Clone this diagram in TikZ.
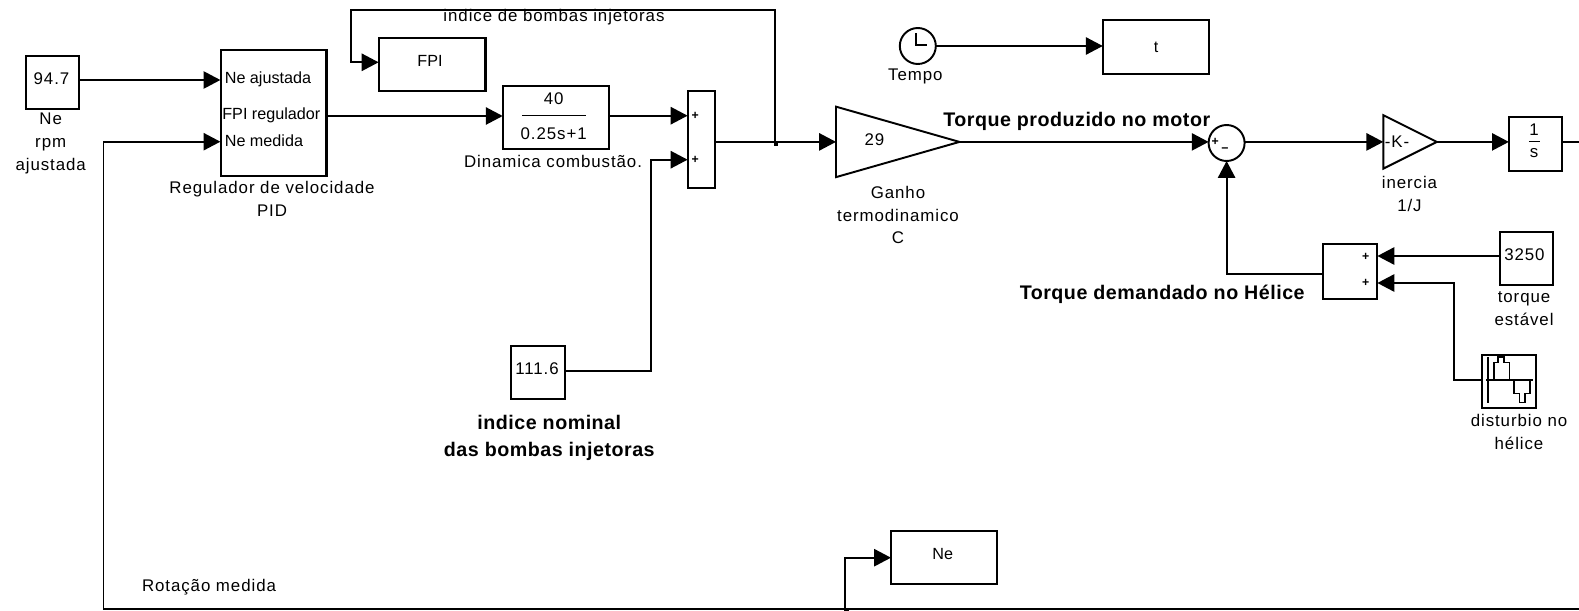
\documentclass[tikz,border=0pt]{standalone}
\usepackage{fontspec}
\setmainfont{Liberation Sans}
\usetikzlibrary{arrows.meta,shapes.geometric}

\begin{document}
\begin{tikzpicture}[x=0.02cm,y=-0.02cm,
    >={Triangle[length=9.6pt,width=9.8pt]},
    wire/.style={line width=1.13pt},
    block/.style={rectangle,draw,line width=1.15pt,inner sep=0pt,outer sep=0pt},
    roundblock/.style={circle,draw,line width=1.1pt,inner sep=0pt,outer sep=0pt,minimum size=0.72cm},
    gainblock/.style={isosceles triangle,isosceles triangle stretches,draw,line width=1.1pt,inner sep=0pt,outer sep=0pt},
    txt/.style={font=\fontsize{9.6}{13}\selectfont\addfontfeature{LetterSpace=5.5},align=center,inner sep=0pt},
    porttxt/.style={font=\fontsize{9.2}{13}\selectfont,align=center,inner sep=0pt},
    boldtxt/.style={font=\fontsize{11.2}{15.4}\selectfont\bfseries\addfontfeature{LetterSpace=2.5},align=center,inner sep=0pt},
    signtxt/.style={font=\fontsize{7}{8}\selectfont\bfseries,inner sep=0pt}]
    \useasboundingbox (0,0) rectangle (1579,611);

    % blocos principais
    \node[block,minimum width=1.07cm,minimum height=1.06cm] (ref) at (52.5,82.2) {};
    \node[block,minimum width=2.12cm,minimum height=2.51cm] (pid) at (273.5,113.2) {};
    \node[block,minimum width=2.14cm,minimum height=1.05cm] (fpi) at (432,64.3) {};
    \node[block,minimum width=2.12cm,minimum height=1.27cm] (dyn) at (555.7,117.3) {};
    \node[block,minimum width=0.54cm,minimum height=1.95cm] (mix) at (701.1,139.5) {};
    \node[block,minimum width=1.07cm,minimum height=1.07cm] (nominal) at (538,372.7) {};
    \node[gainblock,minimum width=1.41cm,minimum height=2.47cm,anchor=lower side] (gain) at (836,141.9) {};
    \node[roundblock] (clock) at (917.8,46) {};
    \node[block,minimum width=2.13cm,minimum height=1.07cm] (tbox) at (1156,46.8) {};
    \node[roundblock] (soma) at (1226.6,143) {};
    \node[gainblock,minimum width=1.07cm,minimum height=1.07cm,anchor=lower side] (inertia) at (1383.3,141.9) {};
    \node[block,minimum width=1.07cm,minimum height=1.07cm] (integ) at (1535.6,144) {};
    \node[block,minimum width=1.08cm,minimum height=1.11cm] (dem) at (1350.4,271.7) {};
    \node[block,minimum width=1.07cm,minimum height=1.06cm] (stable) at (1526.3,258.2) {};
    \node[block,minimum width=1.07cm,minimum height=1.05cm] (dist) at (1509,381.7) {};
    \node[block,minimum width=2.13cm,minimum height=1.05cm] (neout) at (944.2,557.7) {};

    % textos dos blocos
    \node[txt] (reflabel) at (51.5,78.5) {94.7};
    \node[txt] (refname) at (50.7,143.7) {Ne\\rpm\\ajustada};
    \node[porttxt,anchor=west] (pidin1) at (224.5,79) {Ne ajustada};
    \node[porttxt,anchor=west] (pidout) at (222,115) {FPI regulador};
    \node[porttxt,anchor=west] (pidin2) at (224.5,141) {Ne medida};
    \node[txt] (pidname) at (272,199) {Regulador de velocidade\\PID};
    \node[porttxt] (fpilabel) at (430,61) {FPI};
    \node[txt] (dynnum) at (553.7,99) {40};
    \node[txt] (dyndenom) at (553.7,133.7) {0.25s+1};
    \draw[line width=0.8pt] (522.3,115.3) -- (585.8,115.3);
    \node[txt] (dynname) at (553,161.3) {Dinamica combustão.};
    \node[signtxt] (mixa) at (695.3,115.7) {+};
    \node[signtxt] (mixb) at (695.3,159.7) {+};
    \node[txt] (nomlabel) at (537,369) {111.6};
    \node[boldtxt] (nomname) at (549.3,438) {indice nominal\\das bombas injetoras};
    \node[txt] (gainlabel) at (874.5,140) {29};
    \node[txt] (gainname) at (898,215) {Ganho\\termodinamico\\C};
    \node[txt] (clockname) at (915.4,76) {Tempo};
    \node[porttxt] (tlabel) at (1156,47.5) {t};
    \node[boldtxt,anchor=east] (torquemotor) at (1210.5,121) {Torque produzido no motor};
    \node[signtxt] (somaa) at (1215.3,141.7) {+};
    \node[signtxt] (somab) at (1225,150) {\textminus};
    \node[txt] (inertialabel) at (1397,141.7) {-K-};
    \node[txt] (inertianame) at (1409.5,194) {inercia\\1/J};
    \node[txt] (intega) at (1534,130) {1};
    \node[txt] (integb) at (1534,152.7) {s};
    \draw[line width=0.8pt] (1528.8,141.7) -- (1539.5,141.7);
    \node[signtxt] (dema) at (1365.6,256.7) {+};
    \node[signtxt] (demb) at (1365.6,283.3) {+};
    \node[boldtxt,anchor=east] (torquehelice) at (1305,294.5) {Torque demandado no Hélice};
    \node[txt] (stablelabel) at (1524.4,254.3) {3250};
    \node[txt] (stablename) at (1524,309) {torque\\estável};
    \node[txt] (distname) at (1519,432) {disturbio no\\hélice};
    \node[porttxt] (neoutlabel) at (942.7,554) {Ne};
    \node[txt] (fpiname) at (554,16.7) {indice de bombas injetoras};
    \node[txt] (rotname) at (209,587) {Rotação medida};

    % relogio e sinal do disturbio
    \draw[line width=0.8pt] (916,33.3) -- (916,45) -- (927,45);
    \draw[line width=0.8pt] (1488,357) -- (1488,403);
    \draw[line width=0.8pt] (1486,380) -- (1533,380);
    \draw[line width=0.8pt] (1494,380) -- (1494,362.7) -- (1497.8,362.7) -- (1497.8,357) -- (1504,357) -- (1504,362.7) -- (1509.6,362.7) -- (1509.6,380)
        (1514,380) -- (1514,393.3) -- (1519.6,393.3) -- (1519.6,402.3) -- (1525,402.3) -- (1525,393.3) -- (1530,393.3) -- (1530,380);

    % pontos de conexao
    \coordinate (pidA) at (220.4,80);
    \coordinate (pidB) at (220.4,141.7);
    \coordinate (pidC) at (326.6,116);
    \coordinate (mixA) at (687.6,115.7);
    \coordinate (mixB) at (687.6,159.7);
    \coordinate (mixC) at (714.6,141.9);
    \coordinate (branch) at (774.8,141.9);
    \coordinate (top) at (774.8,10);
    \coordinate (topleft) at (350.6,10);
    \coordinate (fpiA) at (378.6,62.3);
    \coordinate (demA) at (1377.4,256);
    \coordinate (demB) at (1377.4,283);
    \coordinate (demC) at (1323.5,274);
    \coordinate (dropdist) at (1454.2,380);
    \coordinate (fbleft) at (103.5,608.7);
    \coordinate (fbright) at (1579,608.7);
    \coordinate (fbne) at (845,608.7);
    \coordinate (outint) at (1579,141.9);

    % ligacoes
    \draw[->,wire] (ref.east |- pidA) -- (pidA);
    \draw[->,wire] (pidC) -- (dyn.west |- pidC);
    \draw[->,wire] (dyn.east |- mixA) -- (mixA);
    \draw[->,wire] (nominal.east |- 0,371) -| (651,159.7) -- (mixB);
    \draw[->,wire] (mixC) -- (gain.lower side);
    \draw[->,wire] (branch) -- (top) -- (topleft) |- (fpiA);
    \draw[->,wire] (clock.east) -- (clock.east -| tbox.west);
    \draw[->,wire] (gain.apex) -- (soma.west |- gain.apex);
    \draw[->,wire] (soma.east |- gain.apex) -- (inertia.lower side);
    \draw[->,wire] (inertia.apex) -- (integ.west |- inertia.apex);
    \draw[wire] (integ.east |- outint) -- (outint);
    \draw[->,wire] (stable.west |- demA) -- (demA);
    \draw[->,wire] (dist.west |- dropdist) -- (dropdist) |- (demB);
    \draw[->,wire] (demC) -| (soma.south);
    \draw[->,wire] (fbright) -- (fbleft) |- (pidB);
    \draw[->,wire] (fbne) |- (neout.west);

    % pontos de derivacao
    \fill (branch) ++(-1,0) rectangle ++(4.5,4.5);
    \fill (fbne) ++(-1,0) rectangle ++(4.5,3);
\end{tikzpicture}
\end{document}
